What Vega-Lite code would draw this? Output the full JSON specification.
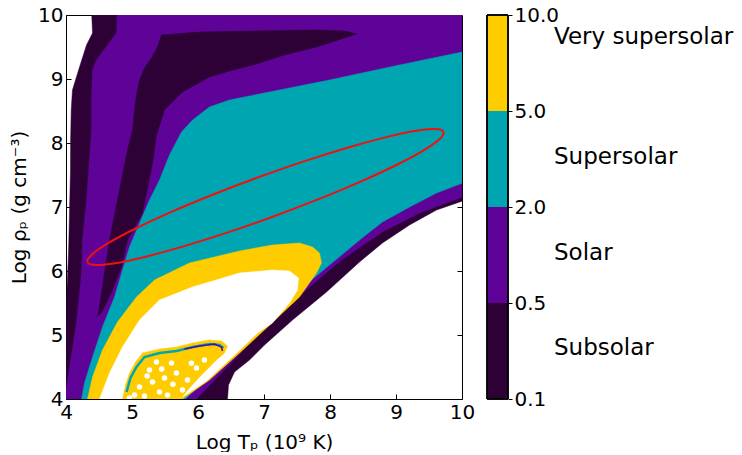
{
  "$schema": "https://vega.github.io/schema/vega-lite/v6.json",
  "padding": {"left": 9, "top": 5, "right": 0, "bottom": 0},
  "autosize": {"type": "pad"},
  "background": "white",
  "spacing": 11,
  "config": {
    "font": "DejaVu Sans",
    "view": {"stroke": null},
    "axis": {
      "labelFont": "DejaVu Sans", "titleFont": "DejaVu Sans",
      "labelColor": "black", "titleColor": "black", "tickColor": "black", "domainColor": "black",
      "grid": false, "labelFontSize": 20, "titleFontSize": 20, "titleFontWeight": "normal",
      "tickSize": -5, "labelPadding": 8, "labelFlush": false, "zindex": 1, "tickWidth": 1, "domainWidth": 1
    }
  },
  "datasets": {
    "regions": [
      {"r":"env","i":0,"T":4.386,"rho":10.1},{"r":"env","i":1,"T":4.402,"rho":9.719},{"r":"env","i":2,"T":4.311,"rho":9.531},{"r":"env","i":3,"T":4.205,"rho":9.188},{"r":"env","i":4,"T":4.098,"rho":8.828},{"r":"env","i":5,"T":4.079,"rho":8.516},{"r":"env","i":6,"T":4.07,"rho":8.047},{"r":"env","i":7,"T":4.068,"rho":7.578},{"r":"env","i":8,"T":4.04,"rho":6.328},{"r":"env","i":9,"T":4.008,"rho":5.547},{"r":"env","i":10,"T":4.0,"rho":5.2},{"r":"env","i":11,"T":3.9,"rho":5.1},{"r":"env","i":12,"T":3.9,"rho":3.9},{"r":"env","i":13,"T":6.447,"rho":3.9},{"r":"env","i":14,"T":6.447,"rho":4.0},{"r":"env","i":15,"T":6.462,"rho":4.219},{"r":"env","i":16,"T":6.553,"rho":4.422},{"r":"env","i":17,"T":6.78,"rho":4.609},{"r":"env","i":18,"T":7.008,"rho":4.844},{"r":"env","i":19,"T":7.432,"rho":5.234},{"r":"env","i":20,"T":7.947,"rho":5.672},{"r":"env","i":21,"T":8.447,"rho":6.141},{"r":"env","i":22,"T":8.795,"rho":6.438},{"r":"env","i":23,"T":9.205,"rho":6.719},{"r":"env","i":24,"T":9.614,"rho":6.953},{"r":"env","i":25,"T":10.008,"rho":7.094},{"r":"env","i":26,"T":10.1,"rho":7.125},{"r":"env","i":27,"T":10.1,"rho":10.1},

      {"r":"purple","i":0,"T":4.78,"rho":10.1},{"r":"purple","i":1,"T":4.765,"rho":9.719},{"r":"purple","i":2,"T":4.462,"rho":9.297},{"r":"purple","i":3,"T":4.402,"rho":9.141},{"r":"purple","i":4,"T":4.386,"rho":8.672},{"r":"purple","i":5,"T":4.386,"rho":8.203},{"r":"purple","i":6,"T":4.311,"rho":7.109},{"r":"purple","i":7,"T":4.25,"rho":6.484},{"r":"purple","i":8,"T":4.235,"rho":5.969},{"r":"purple","i":9,"T":4.159,"rho":5.188},{"r":"purple","i":10,"T":4.053,"rho":4.5},{"r":"purple","i":11,"T":4.008,"rho":4.188},{"r":"purple","i":12,"T":4.0,"rho":4.109},{"r":"purple","i":13,"T":3.9,"rho":3.98},{"r":"purple","i":14,"T":3.9,"rho":3.9},{"r":"purple","i":15,"T":5.977,"rho":3.9},{"r":"purple","i":16,"T":5.977,"rho":4.0},{"r":"purple","i":17,"T":6.326,"rho":4.375},{"r":"purple","i":18,"T":6.78,"rho":4.859},{"r":"purple","i":19,"T":7.235,"rho":5.313},{"r":"purple","i":20,"T":7.689,"rho":5.75},{"r":"purple","i":21,"T":8.174,"rho":6.172},{"r":"purple","i":22,"T":8.795,"rho":6.609},{"r":"purple","i":23,"T":9.356,"rho":6.906},{"r":"purple","i":24,"T":10.008,"rho":7.156},{"r":"purple","i":25,"T":10.1,"rho":7.19},{"r":"purple","i":26,"T":10.1,"rho":10.1},

      {"r":"wedge","i":0,"T":5.447,"rho":9.688},{"r":"wedge","i":1,"T":6.023,"rho":9.734},{"r":"wedge","i":2,"T":6.78,"rho":9.75},{"r":"wedge","i":3,"T":7.795,"rho":9.766},{"r":"wedge","i":4,"T":8.22,"rho":9.75},{"r":"wedge","i":5,"T":8.402,"rho":9.703},{"r":"wedge","i":6,"T":8.22,"rho":9.641},{"r":"wedge","i":7,"T":7.795,"rho":9.5},{"r":"wedge","i":8,"T":7.311,"rho":9.375},{"r":"wedge","i":9,"T":6.886,"rho":9.234},{"r":"wedge","i":10,"T":6.477,"rho":9.125},{"r":"wedge","i":11,"T":6.174,"rho":9.031},{"r":"wedge","i":12,"T":5.765,"rho":8.797},{"r":"wedge","i":13,"T":5.492,"rho":8.516},{"r":"wedge","i":14,"T":5.371,"rho":8.125},{"r":"wedge","i":15,"T":5.311,"rho":7.688},{"r":"wedge","i":16,"T":5.159,"rho":6.906},{"r":"wedge","i":17,"T":4.932,"rho":6.484},{"r":"wedge","i":18,"T":4.841,"rho":6.063},{"r":"wedge","i":19,"T":4.705,"rho":5.703},{"r":"wedge","i":20,"T":4.538,"rho":5.344},{"r":"wedge","i":21,"T":4.477,"rho":5.297},{"r":"wedge","i":22,"T":4.492,"rho":5.344},{"r":"wedge","i":23,"T":4.583,"rho":5.969},{"r":"wedge","i":24,"T":4.659,"rho":6.484},{"r":"wedge","i":25,"T":4.75,"rho":6.953},{"r":"wedge","i":26,"T":4.841,"rho":7.422},{"r":"wedge","i":27,"T":4.932,"rho":7.891},{"r":"wedge","i":28,"T":5.008,"rho":8.203},{"r":"wedge","i":29,"T":5.038,"rho":8.516},{"r":"wedge","i":30,"T":5.068,"rho":8.75},{"r":"wedge","i":31,"T":5.114,"rho":8.984},{"r":"wedge","i":32,"T":5.189,"rho":9.172},{"r":"wedge","i":33,"T":5.295,"rho":9.328},{"r":"wedge","i":34,"T":5.386,"rho":9.5},

      {"r":"teal","i":0,"T":10.1,"rho":9.453},{"r":"teal","i":1,"T":10.008,"rho":9.422},{"r":"teal","i":2,"T":9.053,"rho":9.219},{"r":"teal","i":3,"T":7.992,"rho":8.984},{"r":"teal","i":4,"T":7.083,"rho":8.797},{"r":"teal","i":5,"T":6.477,"rho":8.672},{"r":"teal","i":6,"T":6.174,"rho":8.563},{"r":"teal","i":7,"T":5.917,"rho":8.359},{"r":"teal","i":8,"T":5.75,"rho":8.172},{"r":"teal","i":9,"T":5.568,"rho":7.813},{"r":"teal","i":10,"T":5.417,"rho":7.422},{"r":"teal","i":11,"T":5.265,"rho":7.109},{"r":"teal","i":12,"T":5.114,"rho":6.75},{"r":"teal","i":13,"T":4.962,"rho":6.375},{"r":"teal","i":14,"T":4.856,"rho":6.016},{"r":"teal","i":15,"T":4.735,"rho":5.594},{"r":"teal","i":16,"T":4.553,"rho":5.125},{"r":"teal","i":17,"T":4.402,"rho":4.656},{"r":"teal","i":18,"T":4.28,"rho":4.25},{"r":"teal","i":19,"T":4.235,"rho":4.0},{"r":"teal","i":20,"T":4.22,"rho":3.9},{"r":"teal","i":21,"T":5.811,"rho":3.9},{"r":"teal","i":22,"T":5.811,"rho":4.0},{"r":"teal","i":23,"T":6.174,"rho":4.375},{"r":"teal","i":24,"T":6.629,"rho":4.844},{"r":"teal","i":25,"T":7.083,"rho":5.281},{"r":"teal","i":26,"T":7.538,"rho":5.703},{"r":"teal","i":27,"T":8.083,"rho":6.172},{"r":"teal","i":28,"T":8.523,"rho":6.547},{"r":"teal","i":29,"T":8.795,"rho":6.766},{"r":"teal","i":30,"T":9.205,"rho":7.0},{"r":"teal","i":31,"T":9.614,"rho":7.219},{"r":"teal","i":32,"T":10.008,"rho":7.375},{"r":"teal","i":33,"T":10.1,"rho":7.406},

      {"r":"yellow","i":0,"T":4.295,"rho":3.9},{"r":"yellow","i":1,"T":4.326,"rho":4.0},{"r":"yellow","i":2,"T":4.402,"rho":4.344},{"r":"yellow","i":3,"T":4.553,"rho":4.766},{"r":"yellow","i":4,"T":4.78,"rho":5.203},{"r":"yellow","i":5,"T":5.068,"rho":5.594},{"r":"yellow","i":6,"T":5.341,"rho":5.859},{"r":"yellow","i":7,"T":5.871,"rho":6.125},{"r":"yellow","i":8,"T":6.629,"rho":6.313},{"r":"yellow","i":9,"T":7.129,"rho":6.406},{"r":"yellow","i":10,"T":7.538,"rho":6.438},{"r":"yellow","i":11,"T":7.735,"rho":6.375},{"r":"yellow","i":12,"T":7.841,"rho":6.281},{"r":"yellow","i":13,"T":7.871,"rho":6.125},{"r":"yellow","i":14,"T":7.795,"rho":5.969},{"r":"yellow","i":15,"T":7.538,"rho":5.594},{"r":"yellow","i":16,"T":7.28,"rho":5.344},{"r":"yellow","i":17,"T":7.038,"rho":5.109},{"r":"yellow","i":18,"T":6.629,"rho":4.719},{"r":"yellow","i":19,"T":6.174,"rho":4.297},{"r":"yellow","i":20,"T":5.765,"rho":4.0},{"r":"yellow","i":21,"T":5.705,"rho":3.9},

      {"r":"white","i":0,"T":4.477,"rho":3.9},{"r":"white","i":1,"T":4.508,"rho":4.0},{"r":"white","i":2,"T":4.659,"rho":4.406},{"r":"white","i":3,"T":4.856,"rho":4.813},{"r":"white","i":4,"T":5.114,"rho":5.234},{"r":"white","i":5,"T":5.417,"rho":5.547},{"r":"white","i":6,"T":5.917,"rho":5.75},{"r":"white","i":7,"T":6.629,"rho":5.969},{"r":"white","i":8,"T":7.129,"rho":6.016},{"r":"white","i":9,"T":7.386,"rho":6.0},{"r":"white","i":10,"T":7.523,"rho":5.891},{"r":"white","i":11,"T":7.508,"rho":5.703},{"r":"white","i":12,"T":7.386,"rho":5.5},{"r":"white","i":13,"T":7.129,"rho":5.188},{"r":"white","i":14,"T":6.902,"rho":5.031},{"r":"white","i":15,"T":6.538,"rho":4.672},{"r":"white","i":16,"T":6.129,"rho":4.281},{"r":"white","i":17,"T":5.72,"rho":4.0},{"r":"white","i":18,"T":5.659,"rho":3.9},

      {"r":"blob","i":0,"T":4.826,"rho":3.9},{"r":"blob","i":1,"T":4.856,"rho":4.0},{"r":"blob","i":2,"T":4.902,"rho":4.219},{"r":"blob","i":3,"T":4.962,"rho":4.406},{"r":"blob","i":4,"T":5.053,"rho":4.578},{"r":"blob","i":5,"T":5.159,"rho":4.719},{"r":"blob","i":6,"T":5.417,"rho":4.781},{"r":"blob","i":7,"T":5.674,"rho":4.813},{"r":"blob","i":8,"T":5.917,"rho":4.875},{"r":"blob","i":9,"T":6.174,"rho":4.922},{"r":"blob","i":10,"T":6.356,"rho":4.906},{"r":"blob","i":11,"T":6.447,"rho":4.828},{"r":"blob","i":12,"T":6.402,"rho":4.719},{"r":"blob","i":13,"T":6.28,"rho":4.609},{"r":"blob","i":14,"T":6.144,"rho":4.469},{"r":"blob","i":15,"T":6.023,"rho":4.344},{"r":"blob","i":16,"T":5.871,"rho":4.172},{"r":"blob","i":17,"T":5.735,"rho":4.0},{"r":"blob","i":18,"T":5.674,"rho":3.9}
    ],
    "bloblines": [
      {"l":"teal","i":0,"T":4.917,"rho":4.109},{"l":"teal","i":1,"T":4.977,"rho":4.328},{"l":"teal","i":2,"T":5.068,"rho":4.5},{"l":"teal","i":3,"T":5.189,"rho":4.656},{"l":"teal","i":4,"T":5.417,"rho":4.719},{"l":"teal","i":5,"T":5.674,"rho":4.75},{"l":"teal","i":6,"T":5.917,"rho":4.813},{"l":"teal","i":7,"T":6.174,"rho":4.859},{"l":"teal","i":8,"T":6.326,"rho":4.844},{"l":"teal","i":9,"T":6.386,"rho":4.797},
      {"l":"purple","i":0,"T":5.795,"rho":4.781},{"l":"purple","i":1,"T":6.023,"rho":4.828},{"l":"purple","i":2,"T":6.25,"rho":4.859},{"l":"purple","i":3,"T":6.356,"rho":4.813},{"l":"purple","i":4,"T":6.371,"rho":4.75}
    ],
    "speckles": [
      {"T":5.265,"rho":4.453},{"T":5.371,"rho":4.578},{"T":5.492,"rho":4.328},{"T":5.674,"rho":4.406},{"T":5.977,"rho":4.484},{"T":5.114,"rho":4.188},{"T":5.189,"rho":4.047},{"T":5.417,"rho":4.109},{"T":5.598,"rho":4.563},{"T":5.841,"rho":4.297},{"T":5.311,"rho":4.266},{"T":5.038,"rho":4.063},{"T":5.765,"rho":4.141},{"T":6.098,"rho":4.609},{"T":5.538,"rho":4.063},{"T":4.962,"rho":4.016},{"T":5.23,"rho":4.36},{"T":5.62,"rho":4.23},{"T":5.9,"rho":4.56},{"T":5.45,"rho":4.47}
    ],
    "ellipse": [
      {"i":0,"T":9.72,"rho":8.172},{"i":1,"T":9.656,"rho":8.058},{"i":2,"T":9.412,"rho":7.881},{"i":3,"T":9.006,"rho":7.656},{"i":4,"T":8.465,"rho":7.397},{"i":5,"T":7.826,"rho":7.122},{"i":6,"T":7.132,"rho":6.848},{"i":7,"T":6.43,"rho":6.595},{"i":8,"T":5.768,"rho":6.381},{"i":9,"T":5.192,"rho":6.22},{"i":10,"T":4.742,"rho":6.122},{"i":11,"T":4.445,"rho":6.095},{"i":12,"T":4.326,"rho":6.141},{"i":13,"T":4.389,"rho":6.255},{"i":14,"T":4.633,"rho":6.431},{"i":15,"T":5.039,"rho":6.656},{"i":16,"T":5.58,"rho":6.916},{"i":17,"T":6.22,"rho":7.191},{"i":18,"T":6.914,"rho":7.464},{"i":19,"T":7.615,"rho":7.717},{"i":20,"T":8.277,"rho":7.931},{"i":21,"T":8.853,"rho":8.092},{"i":22,"T":9.305,"rho":8.191},{"i":23,"T":9.6,"rho":8.217}
    ],
    "bar": [
      {"cat":"Subsolar","lo":0,"hi":1,"mid":0.53},
      {"cat":"Solar","lo":1,"hi":2,"mid":1.52},
      {"cat":"Supersolar","lo":2,"hi":3,"mid":2.52},
      {"cat":"Very supersolar","lo":3,"hi":4,"mid":3.77}
    ]
  },
  "hconcat": [
    {
      "width": 396,
      "height": 384,
      "encoding": {
        "x": {"field":"T","type":"quantitative","scale":{"domain":[4,10],"nice":false,"zero":false},"axis":null},
        "y": {"field":"rho","type":"quantitative","scale":{"domain":[4,10],"nice":false,"zero":false},"axis":null},
        "order": {"field":"i","type":"quantitative"}
      },
      "layer": [
        {
          "data": {"name":"regions"},
          "transform": [{"filter":"datum.r == 'env'"}],
          "mark": {"type":"line","interpolate":"linear-closed","fill":"#2e0136","stroke":"#2e0136","strokeWidth":0.5,"clip":true},
          "encoding": {
            "x": {"field":"T","type":"quantitative","scale":{"domain":[4,10],"nice":false,"zero":false},
                  "axis":{"orient":"bottom","values":[4,5,6,7,8,9,10],"title":"Log Tₚ (10⁹  K)","titlePadding":10}},
            "y": {"field":"rho","type":"quantitative","scale":{"domain":[4,10],"nice":false,"zero":false},
                  "axis":{"orient":"left","values":[4,5,6,7,8,9,10],"title":"Log ρₚ (g cm⁻³)","titlePadding":8}}
          }
        },
        {
          "data": {"name":"regions"},
          "transform": [{"filter":"datum.r == 'purple'"}],
          "mark": {"type":"line","interpolate":"linear-closed","fill":"#5f0398","stroke":"#5f0398","strokeWidth":0.5,"clip":true},
          "encoding": {
            "x": {"field":"T","type":"quantitative","scale":{"domain":[4,10],"nice":false,"zero":false},
                  "axis":{"orient":"top","values":[5,6,7,8,9],"labels":false,"title":null}},
            "y": {"field":"rho","type":"quantitative","scale":{"domain":[4,10],"nice":false,"zero":false},
                  "axis":{"orient":"right","values":[5,6,7,8,9],"labels":false,"title":null}}
          }
        },
        {
          "data": {"name":"regions"},
          "transform": [{"filter":"datum.r == 'wedge'"}],
          "mark": {"type":"line","interpolate":"linear-closed","fill":"#2e0136","stroke":"#2e0136","strokeWidth":0.5,"clip":true}
        },
        {
          "data": {"name":"regions"},
          "transform": [{"filter":"datum.r == 'teal'"}],
          "mark": {"type":"line","interpolate":"linear-closed","fill":"#00a5b2","stroke":"#00a5b2","strokeWidth":0.5,"clip":true}
        },
        {
          "data": {"name":"regions"},
          "transform": [{"filter":"datum.r == 'yellow'"}],
          "mark": {"type":"line","interpolate":"linear-closed","fill":"#ffcc00","stroke":"#ffcc00","strokeWidth":0.5,"clip":true}
        },
        {
          "data": {"name":"regions"},
          "transform": [{"filter":"datum.r == 'white'"}],
          "mark": {"type":"line","interpolate":"linear-closed","fill":"#ffffff","stroke":"#ffffff","strokeWidth":0.5,"clip":true}
        },
        {
          "data": {"name":"regions"},
          "transform": [{"filter":"datum.r == 'blob'"}],
          "mark": {"type":"line","interpolate":"linear-closed","fill":"#ffcc00","stroke":"#ffcc00","strokeWidth":0.5,"clip":true}
        },
        {
          "data": {"name":"bloblines"},
          "transform": [{"filter":"datum.l == 'teal'"}],
          "mark": {"type":"line","stroke":"#00a5b2","strokeWidth":2.5,"clip":true}
        },
        {
          "data": {"name":"bloblines"},
          "transform": [{"filter":"datum.l == 'purple'"}],
          "mark": {"type":"line","stroke":"#5f0398","strokeWidth":1.5,"clip":true}
        },
        {
          "data": {"name":"speckles"},
          "mark": {"type":"point","shape":"circle","filled":true,"color":"#ffffff","opacity":1,"size":30,"clip":true}
        },
        {
          "data": {"name":"ellipse"},
          "mark": {"type":"line","interpolate":"cardinal-closed","stroke":"#ee1111","strokeWidth":2,"clip":true}
        }
      ],
      "resolve": {"axis": {"x":"independent","y":"independent"}}
    },
    {
      "width": 21,
      "height": 384,
      "data": {"name":"bar"},
      "layer": [
        {
          "mark": {"type":"rect"},
          "encoding": {
            "x": {"datum":0,"type":"quantitative","scale":{"domain":[0,1]},"axis":null},
            "x2": {"datum":1},
            "y": {"field":"lo","type":"quantitative","scale":{"domain":[0,4],"nice":false,"zero":false},
                  "axis":{"orient":"right","values":[0,1,2,3,4],"labelExpr":"['0.1','0.5','2.0','5.0','10.0'][datum.value]","tickSize":4,"labelPadding":2,"domain":false,"title":null}},
            "y2": {"field":"hi"},
            "color": {"field":"cat","type":"nominal","scale":{"domain":["Subsolar","Solar","Supersolar","Very supersolar"],"range":["#2e0136","#5f0398","#00a5b2","#ffcc00"]},"legend":null}
          }
        },
        {
          "mark": {"type":"rect","filled":false,"stroke":"black","strokeWidth":1},
          "encoding": {
            "x": {"datum":0,"type":"quantitative","scale":{"domain":[0,1]},"axis":null},
            "x2": {"datum":1},
            "y": {"datum":0,"type":"quantitative","scale":{"domain":[0,4],"nice":false,"zero":false},
                  "axis":{"orient":"right","values":[0,1,2,3,4],"labelExpr":"['0.1','0.5','2.0','5.0','10.0'][datum.value]","tickSize":4,"labelPadding":2,"domain":false,"title":null}},
            "y2": {"datum":4}
          }
        },
        {
          "mark": {"type":"text","align":"left","baseline":"middle","dx":46,"fontSize":23,"font":"DejaVu Sans","color":"black"},
          "encoding": {
            "x": {"datum":1,"type":"quantitative","scale":{"domain":[0,1]},"axis":null},
            "y": {"field":"mid","type":"quantitative","scale":{"domain":[0,4],"nice":false,"zero":false},
                  "axis":{"orient":"right","values":[0,1,2,3,4],"labelExpr":"['0.1','0.5','2.0','5.0','10.0'][datum.value]","tickSize":4,"labelPadding":2,"domain":false,"title":null}},
            "text": {"field":"cat"}
          }
        }
      ]
    }
  ]
}
